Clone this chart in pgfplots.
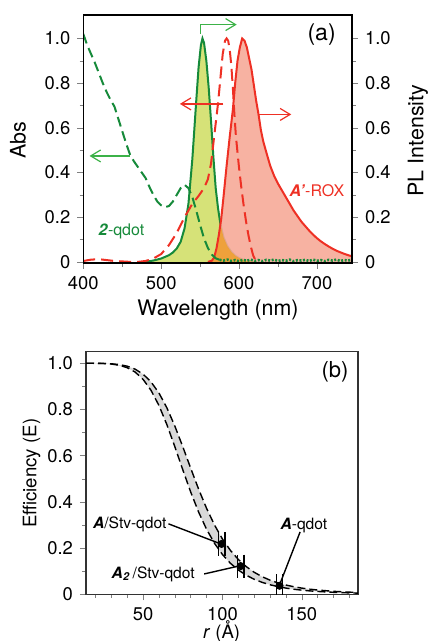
\documentclass[border=0pt]{standalone}
\usepackage{fontspec}
\setmainfont{TeX Gyre Heros}
\usepackage{pgfplots}
\usepackage{pgfplotstable}
\pgfplotsset{compat=1.18}
\usetikzlibrary{arrows.meta}

\definecolor{qgreen}{RGB}{22,138,58}
\definecolor{agreen}{RGB}{60,178,72}
\definecolor{rred}{RGB}{238,48,36}
\definecolor{yfill}{RGB}{214,226,120}
\definecolor{sfill}{RGB}{246,170,152}
\definecolor{ofill}{RGB}{238,160,50}

% qdot PL
\pgfplotstableread{
l g
480 0.0
490 0.006
500 0.015
510 0.03
515 0.042
520 0.06
525 0.09
530 0.15
535 0.26
540 0.46
545 0.72
548 0.87
551 0.97
553 1.0
555 0.98
558 0.9
561 0.78
564 0.63
567 0.47
570 0.33
573 0.24
576 0.17
580 0.11
585 0.07
590 0.045
595 0.028
600 0.017
605 0.01
610 0.004
620 0.0
}\gpl

% ROX PL
\pgfplotstableread{
l r
560 0.0
565 0.005
568 0.02
571 0.06
574 0.12
577 0.19
580 0.29
584 0.43
588 0.56
592 0.68
595 0.8
598 0.9
601 0.96
604 1.0
607 0.99
610 0.96
613 0.91
616 0.86
619 0.79
622 0.72
625 0.66
628 0.59
631 0.54
635 0.49
640 0.43
645 0.385
650 0.35
655 0.32
660 0.29
665 0.26
670 0.23
675 0.205
680 0.18
685 0.16
690 0.14
695 0.122
700 0.106
705 0.092
710 0.08
715 0.069
720 0.059
725 0.05
730 0.043
735 0.036
740 0.03
745 0.025
}\rpl

% overlap of the two PL bands
\pgfplotstableread{
l o
562 0.0
565 0.005
568 0.02
571 0.06
574 0.12
576 0.17
577 0.155
580 0.11
585 0.07
590 0.045
595 0.028
600 0.017
605 0.01
610 0.004
620 0.0
}\opl

% ROX absorption
\pgfplotstableread{
l a
400 0.004
410 0.01
420 0.012
430 0.008
440 0.004
450 0.002
460 0.0
470 0.0
480 0.004
490 0.015
500 0.035
510 0.075
520 0.13
530 0.2
540 0.26
548 0.295
555 0.33
560 0.37
564 0.44
567 0.53
570 0.62
573 0.71
576 0.82
579 0.93
582 0.99
584 1.0
586 0.99
588 0.95
590 0.88
592 0.78
594 0.66
596 0.56
598 0.49
600 0.42
603 0.33
606 0.25
609 0.18
612 0.12
615 0.07
618 0.03
621 0.008
624 0.0
}\rabs

% qdot absorption
\pgfplotstableread{
l a
400 1.02
405 0.97
410 0.93
415 0.89
420 0.845
425 0.80
430 0.76
435 0.725
440 0.695
445 0.64
450 0.585
455 0.53
460 0.48
465 0.45
470 0.425
475 0.40
480 0.375
485 0.335
490 0.30
495 0.27
500 0.253
505 0.245
510 0.25
515 0.27
520 0.30
525 0.33
530 0.345
535 0.33
540 0.29
545 0.23
550 0.165
555 0.105
560 0.062
565 0.033
570 0.016
575 0.009
}\gabs

\pgfplotstableread{
l a
575 0.009
580 0.006
585 0.01
590 0.004
595 0.008
600 0.003
605 0.009
610 0.005
615 0.01
620 0.004
625 0.008
630 0.003
635 0.009
640 0.006
645 0.01
650 0.004
655 0.008
660 0.005
665 0.01
670 0.003
675 0.008
680 0.006
685 0.009
690 0.004
695 0.01
700 0.005
705 0.008
710 0.003
715 0.009
720 0.006
725 0.01
730 0.004
735 0.008
740 0.006
745 0.009
}\gnoise

% FRET efficiency, R0 = 77 and 82.5
\pgfplotstableread{
r lo hi
14 1.0 1.0
20 0.9997 0.9998
25 0.9988 0.9992
30 0.9965 0.9977
35 0.9913 0.9942
40 0.9807 0.9872
45 0.9617 0.9743
50 0.9302 0.9528
55 0.8828 0.9193
60 0.8171 0.8712
65 0.7343 0.8070
70 0.6392 0.7283
75 0.5394 0.6392
80 0.4429 0.5460
85 0.3559 0.4553
90 0.2817 0.3723
95 0.2209 0.3001
100 0.1725 0.2397
105 0.1346 0.1904
110 0.1053 0.1511
115 0.0826 0.1200
120 0.0652 0.0955
125 0.0518 0.0763
130 0.0414 0.0613
135 0.0333 0.0495
140 0.0269 0.0402
145 0.0219 0.0328
150 0.0180 0.0269
155 0.0148 0.0222
160 0.0123 0.0185
170 0.0086 0.0129
180 0.0061 0.0093
185.5 0.0051 0.0078
}\fret

% band between the two curves (upper forward, lower back)
\pgfplotstableread{
r e
14 1.0
30 0.9977
40 0.9872
45 0.9743
50 0.9528
55 0.9193
60 0.8712
65 0.8070
70 0.7283
75 0.6392
80 0.5460
85 0.4553
90 0.3723
95 0.3001
100 0.2397
105 0.1904
110 0.1511
115 0.1200
120 0.0955
125 0.0763
130 0.0613
135 0.0495
140 0.0402
145 0.0328
150 0.0269
160 0.0185
170 0.0129
180 0.0093
185.5 0.0078
185.5 0.0051
180 0.0061
170 0.0086
160 0.0123
150 0.0180
145 0.0219
140 0.0269
135 0.0333
130 0.0414
125 0.0518
120 0.0652
115 0.0826
110 0.1053
105 0.1346
100 0.1725
95 0.2209
90 0.2817
85 0.3559
80 0.4429
75 0.5394
70 0.6392
65 0.7343
60 0.8171
55 0.8828
50 0.9302
45 0.9617
40 0.9807
30 0.9965
14 1.0
}\band

\pgfplotstableread{
r e dr
99.5 0.218 2.2
111.5 0.122 2.1
136 0.037 2.1
}\pts

\pgfplotsset{
  tickfont/.style={font=\fontsize{9.2}{10}\selectfont},
  common/.style={
    scale only axis, anchor=south west,
    tick align=outside, major tick length=3pt, minor tick length=1.8pt,
    tick label style={tickfont},
    /pgf/number format/assume math mode=true,
    ytick={0,0.2,0.4,0.6,0.8,1},
    yticklabels={0,0.2,0.4,0.6,0.8,1.0},
    minor ytick={0.1,0.3,0.5,0.7,0.9},
    xtick pos=bottom,
  },
}

\begin{document}
\begin{tikzpicture}
\path[use as bounding box] (0,0) rectangle (215pt,320.5pt);

% ---------- panel (a) ----------
\begin{axis}[common,
  at={(41.65pt,189pt)}, width=134.35pt, height=124pt,
  xmin=400, xmax=745, ymin=-0.005, ymax=1.105,
  xtick={400,500,600,700}, minor xtick={450,550,650},
  ytick pos=left,
  axis line style={line width=0.7pt},
]
\addplot[draw=none, fill=yfill] table[x=l,y=g] {\gpl} \closedcycle;
\addplot[qgreen, line width=1pt] table[x=l,y=g] {\gpl};
\addplot[draw=none, fill=sfill, fill opacity=0.9] table[x=l,y=r] {\rpl} \closedcycle;
\addplot[draw=none, fill=ofill, fill opacity=0.9] table[x=l,y=o] {\opl} \closedcycle;
\addplot[rred, line width=1pt] table[x=l,y=r] {\rpl};
\addplot[rred, line width=1pt, dash pattern=on 6pt off 3pt] table[x=l,y=a] {\rabs};
\addplot[qgreen, line width=1pt, dash pattern=on 5pt off 2.5pt] table[x=l,y=a] {\gabs};
\addplot[qgreen, line width=1.3pt, dash pattern=on 1pt off 0.8pt] table[x=l,y=a] {\gnoise};

\draw[agreen, line width=0.6pt, -{Straight Barb[length=5pt,width=6pt]}]
  (axis cs:550,1.02) -- (axis cs:550,1.062) -- (axis cs:597,1.062);
\draw[rred, line width=0.6pt, -{Straight Barb[length=5pt,width=6pt]}]
  (axis cs:580,0.707) -- (axis cs:524,0.707);
\draw[rred, line width=0.6pt, -{Straight Barb[length=5pt,width=6pt]}]
  (axis cs:625,0.66) -- (axis cs:667,0.66);
\draw[agreen, line width=0.6pt, -{Straight Barb[length=5pt,width=6pt]}]
  (axis cs:460,0.474) -- (axis cs:408,0.474);

\node[font=\fontsize{11.5}{12}\selectfont] at (axis cs:706,1.016) {(a)};
\node[rred, font=\fontsize{8}{9}\selectfont] at (axis cs:700,0.318) {\textbf{\textit{A'}}-ROX};
\node[qgreen, font=\fontsize{8}{9}\selectfont] at (axis cs:449,0.137) {\textbf{\textit{2}}-qdot};
\end{axis}

\begin{axis}[common,
  at={(41.65pt,189pt)}, width=134.35pt, height=124pt,
  xmin=400, xmax=745, ymin=-0.005, ymax=1.105,
  xtick=\empty, ytick pos=right, yticklabel pos=right,
  axis line style={line width=0.7pt},
]
\addplot[draw=none] coordinates {(400,0)};
\end{axis}

\node[rotate=90, font=\fontsize{10.7}{12}\selectfont] at (9pt,250.5pt) {Abs};
\node[rotate=90, font=\fontsize{10.7}{12}\selectfont] at (209pt,250.2pt) {PL Intensity};
\node[font=\fontsize{10.7}{12}\selectfont] at (109pt,165.5pt) {Wavelength (nm)};

% ---------- panel (b) ----------
\begin{axis}[common,
  at={(43pt,23.35pt)}, width=136pt, height=121.3pt,
  xmin=14, xmax=185.5, ymin=0, ymax=1.05,
  xtick={50,100,150},
  minor xtick={20,30,40,60,70,80,90,110,120,130,140,160,170,180},
  ytick pos=left,
  axis line style={line width=0.6pt, black!80},
]
\addplot[draw=none, fill=black!15] table[x=r,y=e] {\band} -- cycle;
\addplot[black, line width=0.7pt, dash pattern=on 4pt off 2pt] table[x=r,y=hi] {\fret};
\addplot[black, line width=0.7pt, dash pattern=on 4pt off 2pt] table[x=r,y=lo] {\fret};

\draw[line width=0.7pt] (axis cs:66,0.305) -- (axis cs:97.5,0.222);
\draw[line width=0.7pt] (axis cs:88.5,0.088) -- (axis cs:109.5,0.121);
\draw[line width=0.7pt] (axis cs:149,0.27) -- (axis cs:136,0.04);

\addplot[only marks, mark=*, mark size=1.8pt, black,
  error bars/.cd, x dir=both, x explicit, error mark=|,
  error mark options={black, mark size=5.8pt, line width=0.6pt}]
  table[x=r, y=e, x error=dr] {\pts};

\node[font=\fontsize{11}{12}\selectfont] at (axis cs:171,0.964) {(b)};
\node[font=\fontsize{7.8}{9}\selectfont] at (axis cs:41.6,0.304) {\textbf{\textit{A}}/Stv-qdot};
\node[font=\fontsize{7.8}{9}\selectfont, anchor=east] at (axis cs:87,0.088) {\textbf{\textit{A\textsubscript{2}}}\,/Stv-qdot};
\node[font=\fontsize{7.8}{9}\selectfont] at (axis cs:151.4,0.297) {\textbf{\textit{A}}-qdot};
\end{axis}

\node[rotate=90, font=\fontsize{9.3}{11}\selectfont] at (15.8pt,83.8pt) {Efficiency (E)};
\node[font=\fontsize{9.3}{11}\selectfont] at (110.8pt,4.5pt) {\textit{r} (Å)};
\end{tikzpicture}
\end{document}
